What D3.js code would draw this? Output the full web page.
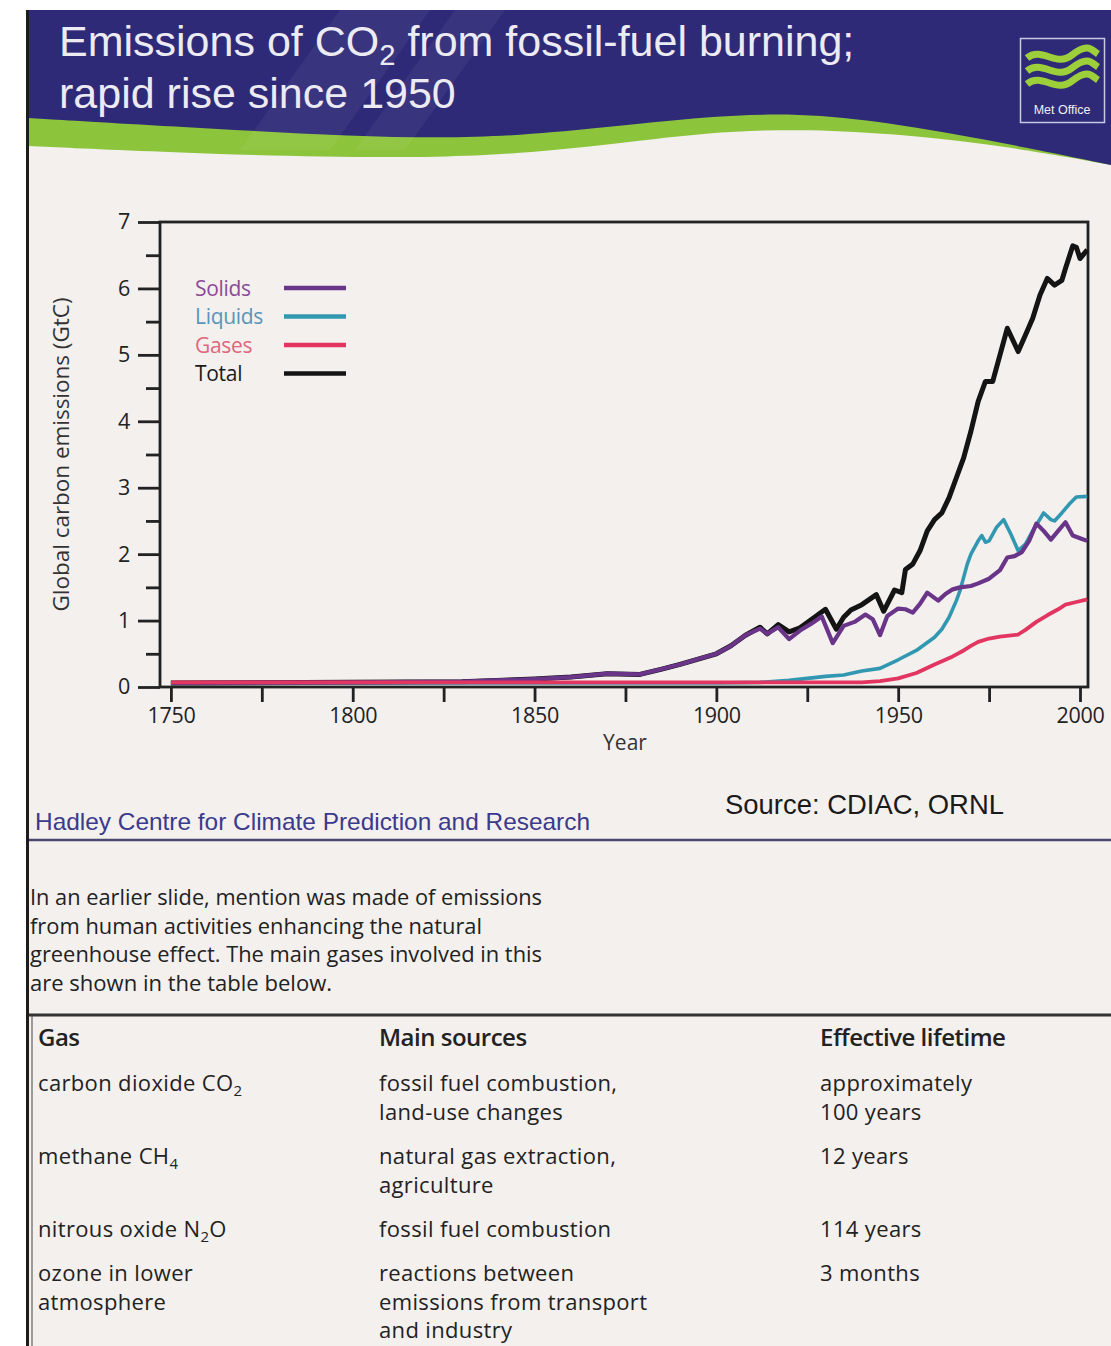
<!DOCTYPE html>
<html>
<head>
<meta charset="utf-8">
<script src="https://cdn.jsdelivr.net/npm/d3@7"></script>
<style>
  body { margin: 0; background: #fff; }
  svg { display: block; }
</style>
</head>
<body>
<div id="chart"></div>
<script>
// values, GtC per year
var totalYears  = [1750, 1800, 1830, 1850, 1860, 1870, 1879, 1885, 1890, 1895, 1900, 1904, 1908, 1912, 1914, 1917, 1920, 1923, 1927, 1930,
                   1933, 1935, 1937, 1940, 1944, 1946, 1949, 1951, 1952, 1954, 1956, 1958, 1960, 1962, 1964, 1966, 1968, 1970, 1972, 1974,
                   1976, 1978, 1980, 1983, 1985, 1987, 1989, 1991, 1993, 1995, 1996, 1998, 1999, 2000, 2002];
var totalValues = [0.06, 0.07, 0.08, 0.12, 0.15, 0.2, 0.19, 0.27, 0.34, 0.42, 0.5, 0.62, 0.78, 0.9, 0.8, 0.94, 0.83, 0.89, 1.05, 1.17,
                   0.87, 1.05, 1.16, 1.24, 1.39, 1.14, 1.46, 1.42, 1.77, 1.85, 2.05, 2.35, 2.52, 2.62, 2.85, 3.15, 3.45, 3.85, 4.3, 4.6,
                   4.6, 5.0, 5.4, 5.05, 5.3, 5.55, 5.9, 6.15, 6.05, 6.12, 6.3, 6.64, 6.62, 6.45, 6.58];

var solidsYears  = [1750, 1800, 1830, 1850, 1860, 1870, 1879, 1885, 1890, 1895, 1900, 1904, 1908, 1912, 1914, 1917, 1920, 1923, 1926, 1929,
                    1932, 1935, 1938, 1941, 1943, 1945, 1947, 1950, 1952, 1954, 1956, 1958, 1961, 1963, 1965, 1967, 1970, 1972, 1975, 1978,
                    1980, 1982, 1984, 1986, 1988, 1990, 1992, 1994, 1996, 1998, 2000, 2002];
var solidsValues = [0.06, 0.07, 0.08, 0.12, 0.15, 0.2, 0.19, 0.27, 0.34, 0.42, 0.5, 0.62, 0.78, 0.88, 0.8, 0.9, 0.72, 0.85, 0.95, 1.06,
                    0.66, 0.92, 0.98, 1.09, 1.02, 0.78, 1.07, 1.18, 1.17, 1.12, 1.25, 1.42, 1.3, 1.4, 1.47, 1.5, 1.52, 1.56, 1.63, 1.76,
                    1.95, 1.97, 2.03, 2.2, 2.46, 2.35, 2.22, 2.35, 2.48, 2.28, 2.24, 2.2];

var liquidsYears  = [1750, 1900, 1912, 1920, 1925, 1930, 1935, 1940, 1945, 1950, 1955, 1960, 1962, 1964, 1966, 1967, 1968, 1969, 1970, 1972,
                     1973, 1974, 1975, 1977, 1979, 1981, 1983, 1985, 1987, 1990, 1992, 1993, 1995, 1997, 1999, 2002];
var liquidsValues = [0.06, 0.06, 0.07, 0.1, 0.13, 0.16, 0.18, 0.24, 0.28, 0.41, 0.55, 0.75, 0.87, 1.05, 1.3, 1.45, 1.65, 1.85, 2.0, 2.2,
                     2.28, 2.18, 2.2, 2.4, 2.52, 2.3, 2.05, 2.15, 2.35, 2.62, 2.52, 2.5, 2.62, 2.75, 2.86, 2.87];

var gasesYears  = [1750, 1940, 1945, 1950, 1955, 1960, 1965, 1968, 1970, 1972, 1975, 1978, 1983, 1985, 1988, 1991, 1994, 1996, 1999, 2002];
var gasesValues = [0.07, 0.07, 0.09, 0.13, 0.21, 0.34, 0.46, 0.55, 0.62, 0.68, 0.73, 0.76, 0.79, 0.86, 0.98, 1.08, 1.17, 1.24, 1.28, 1.32];

var xTickYears = [1750, 1775, 1800, 1825, 1850, 1875, 1900, 1925, 1950, 1975, 2000];
var yTickValues = [0, 1, 2, 3, 4, 5, 6, 7];
var yMinorValues = [0.5, 1.5, 2.5, 3.5, 4.5, 5.5, 6.5];

var legendLabels = ["Solids", "Liquids", "Gases", "Total"];

var titleLines = ["Emissions of CO_2 from fossil-fuel burning;", "rapid rise since 1950"];
var introLines = ["In an earlier slide, mention was made of emissions",
                  "from human activities enhancing the natural",
                  "greenhouse effect. The main gases involved in this",
                  "are shown in the table below."];
var tableHeader = ["Gas", "Main sources", "Effective lifetime"];
var tableRows = [
    [["carbon dioxide CO_2"], ["fossil fuel combustion,", "land-use changes"], ["approximately", "100 years"]],
    [["methane CH_4"], ["natural gas extraction,", "agriculture"], ["12 years"]],
    [["nitrous oxide N_2O"], ["fossil fuel combustion"], ["114 years"]],
    [["ozone in lower", "atmosphere"], ["reactions between", "emissions from transport", "and industry"], ["3 months"]]
];

var W = 1111, H = 1346;
var chartFont = "'Open Sans', 'Noto Sans', sans-serif";
var arialFont = "'Liberation Sans', Arial, sans-serif";

var svg = d3.select("#chart").append("svg")
    .attr("width", W)
    .attr("height", H);

// page
svg.append("rect").attr("width", W).attr("height", H).attr("fill", "#ffffff");
svg.append("rect").attr("x", 28).attr("y", 10).attr("width", W - 28).attr("height", H - 10).attr("fill", "#f3f0ee");

// text with "_n" subscripts
function richText(sel, str, size) {
    var parts = str.split(/(_\d)/);
    var shifted = false;
    parts.forEach(function (p) {
        if (p === "") return;
        if (p.charAt(0) === "_") {
            sel.append("tspan").attr("dy", size * 0.22).attr("font-size", size * 0.68).text(p.slice(1));
            shifted = true;
        } else {
            var t = sel.append("tspan").text(p);
            if (shifted) { t.attr("dy", -size * 0.22); shifted = false; }
        }
    });
}

/******** header band ********/
var waveLine = d3.line().curve(d3.curveBasis);
var greenEdge = [[28, 146], [200, 154], [454, 160], [600, 146], [709, 132], [800, 129], [886, 133], [1000, 145], [1111, 165]];
var navyEdge  = [[28, 118], [200, 128], [454, 142], [600, 128], [709, 116], [800, 113], [886, 122], [1000, 142], [1111, 165]];

svg.append("path")
    .attr("d", "M28,10L1111,10L" + waveLine(greenEdge.slice().reverse()).slice(1) + "Z")
    .attr("fill", "#8cc43c");
svg.append("path")
    .attr("d", "M28,10L1111,10L" + waveLine(navyEdge.slice().reverse()).slice(1) + "Z")
    .attr("fill", "#2e2a78");
// faint diagonal sheen
svg.append("path").attr("d", "M340,10L430,10L330,150L240,150Z").attr("fill", "#ffffff").attr("opacity", 0.05);
svg.append("path").attr("d", "M455,10L505,10L405,150L355,150Z").attr("fill", "#ffffff").attr("opacity", 0.05);

titleLines.forEach(function (line, i) {
    var t = svg.append("text")
        .attr("x", 59)
        .attr("y", 56 + i * 52)
        .attr("font-family", arialFont)
        .attr("font-size", 43)
        .attr("fill", "#ecebf3");
    richText(t, line, 43);
});

// Met Office logo
var logo = svg.append("g").attr("transform", "translate(1020,38)");
logo.append("rect").attr("x", 0.5).attr("y", 0.5).attr("width", 84).attr("height", 84)
    .attr("fill", "none").attr("stroke", "#c9c8e2").attr("stroke-width", 1.5);
[0, 13, 26].forEach(function (dy) {
    logo.append("path")
        .attr("d", "M7," + (20 + dy) + " C22," + (8 + dy) + " 36," + (30 + dy) + " 52," + (17 + dy) + " S72," + (12 + dy) + " 78," + (16 + dy))
        .attr("fill", "none").attr("stroke", "#9ccf3a").attr("stroke-width", 7);
});
logo.append("text").attr("x", 42).attr("y", 76).attr("text-anchor", "middle")
    .attr("font-family", arialFont).attr("font-size", 12.5).attr("fill", "#f0f0f0")
    .text("Met Office");

/******** chart ********/
var x = d3.scaleLinear().domain([1747, 2002.2]).range([160, 1088]);
var y = d3.scaleLinear().domain([0, 7]).range([687, 222]);

var g = svg.append("g");

var xAxisCall = d3.axisBottom(x)
    .tickValues(xTickYears)
    .tickSize(15)
    .tickPadding(6)
    .tickFormat(function (d) { return d % 50 === 0 ? d : ""; });
var yAxisCall = d3.axisLeft(y)
    .tickValues(yTickValues)
    .tickSize(22)
    .tickPadding(8)
    .tickFormat(d3.format("d"));
var yMinorCall = d3.axisLeft(y)
    .tickValues(yMinorValues)
    .tickSize(14)
    .tickFormat("");

var xAxis = g.append("g").attr("transform", "translate(0," + y(0) + ")").call(xAxisCall);
var yAxis = g.append("g").attr("transform", "translate(" + x(1747) + ",0)").call(yAxisCall);
var yMinor = g.append("g").attr("transform", "translate(" + x(1747) + ",0)").call(yMinorCall);

[xAxis, yAxis, yMinor].forEach(function (a) {
    a.select(".domain").remove();
    a.selectAll(".tick line").attr("stroke", "#222").attr("stroke-width", 2.8);
    a.selectAll(".tick text")
        .attr("font-family", chartFont)
        .attr("font-size", 21.5)
        .attr("letter-spacing", -0.3)
        .attr("fill", "#222");
});

// frame
g.append("rect")
    .attr("x", x(1747))
    .attr("y", y(7))
    .attr("width", x(2002.2) - x(1747))
    .attr("height", y(0) - y(7))
    .attr("fill", "none")
    .attr("stroke", "#222")
    .attr("stroke-width", 2.8);

var series = [
    { name: "Total",   years: totalYears,   values: totalValues,   color: "#141414", width: 5 },
    { name: "Liquids", years: liquidsYears, values: liquidsValues, color: "#3298b2", width: 3.6 },
    { name: "Solids",  years: solidsYears,  values: solidsValues,  color: "#6a3489", width: 4.2 },
    { name: "Gases",   years: gasesYears,   values: gasesValues,   color: "#e23560", width: 3.8 }
];

var lineGenerator = d3.line()
    .x(function (d) { return x(d[0]); })
    .y(function (d) { return y(d[1]); })
    .curve(d3.curveLinear);

series.forEach(function (s) {
    var pts = s.years.map(function (yr, i) { return [yr, s.values[i]]; });
    g.append("path")
        .attr("class", "line")
        .attr("fill", "none")
        .attr("stroke", s.color)
        .attr("stroke-width", s.width)
        .attr("stroke-linejoin", "round")
        .attr("d", lineGenerator(pts));
});

// legend
var legendText = { Solids: "#8c4a98", Liquids: "#5a95b8", Gases: "#e0667c", Total: "#1a1a1a" };
var legendLine = { Solids: "#6a3489", Liquids: "#3298b2", Gases: "#e23560", Total: "#141414" };
legendLabels.forEach(function (lab, i) {
    var ly = 288 + i * 28.5;
    g.append("text")
        .attr("x", 195)
        .attr("y", ly + 7.5)
        .attr("font-family", chartFont)
        .attr("font-size", 21)
        .attr("letter-spacing", -0.3)
        .attr("fill", legendText[lab])
        .text(lab);
    g.append("line")
        .attr("x1", 284).attr("x2", 346)
        .attr("y1", ly).attr("y2", ly)
        .attr("stroke", legendLine[lab])
        .attr("stroke-width", 4.5);
});

// axis titles
g.append("text")
    .attr("transform", "translate(69," + ((y(0) + y(7)) / 2) + ") rotate(-90)")
    .attr("text-anchor", "middle")
    .attr("font-family", chartFont)
    .attr("font-size", 21)
    .attr("textLength", 314).attr("lengthAdjust", "spacingAndGlyphs")
    .attr("fill", "#333")
    .text("Global carbon emissions (GtC)");

g.append("text")
    .attr("x", 625)
    .attr("y", 750)
    .attr("text-anchor", "middle")
    .attr("font-family", chartFont)
    .attr("font-size", 21)
    .attr("fill", "#333")
    .text("Year");

// footer of the slide
svg.append("text")
    .attr("x", 725).attr("y", 814)
    .attr("font-family", arialFont).attr("font-size", 28).attr("fill", "#1a1a1a")
    .attr("textLength", 279).attr("lengthAdjust", "spacingAndGlyphs")
    .text("Source: CDIAC, ORNL");
svg.append("text")
    .attr("x", 35).attr("y", 830)
    .attr("font-family", arialFont).attr("font-size", 24).attr("fill", "#3b3a8c")
    .attr("textLength", 555).attr("lengthAdjust", "spacingAndGlyphs")
    .text("Hadley Centre for Climate Prediction and Research");
svg.append("line")
    .attr("x1", 28).attr("x2", W).attr("y1", 840).attr("y2", 840)
    .attr("stroke", "#4a4870").attr("stroke-width", 2.5);

/******** page text below ********/
var introWidths = [512, 452, 512, 302];
introLines.forEach(function (line, i) {
    svg.append("text")
        .attr("x", 30).attr("y", 905 + i * 28.5)
        .attr("font-family", chartFont).attr("font-size", 22.5).attr("fill", "#222")
        .attr("textLength", introWidths[i]).attr("lengthAdjust", "spacingAndGlyphs")
        .text(line);
});

svg.append("line")
    .attr("x1", 28).attr("x2", W).attr("y1", 1015).attr("y2", 1015)
    .attr("stroke", "#333").attr("stroke-width", 3);

var colX = [38, 379, 820];
var rowY = [1091, 1164, 1237, 1281];
var lineStep = 28.6;
var cellSize = 22;

tableHeader.forEach(function (h, c) {
    svg.append("text")
        .attr("x", colX[c]).attr("y", 1046)
        .attr("font-family", chartFont).attr("font-size", 24).attr("font-weight", 600)
        .attr("letter-spacing", -0.5).attr("fill", "#222")
        .text(h);
});

tableRows.forEach(function (row, r) {
    row.forEach(function (cell, c) {
        cell.forEach(function (line, k) {
            var t = svg.append("text")
                .attr("x", colX[c]).attr("y", rowY[r] + k * lineStep)
                .attr("font-family", chartFont).attr("font-size", cellSize)
                .attr("letter-spacing", 0.35).attr("fill", "#222");
            richText(t, line, cellSize);
        });
    });
});

// left page edge
svg.append("line")
    .attr("x1", 27.5).attr("x2", 27.5).attr("y1", 10).attr("y2", H)
    .attr("stroke", "#1c1c1c").attr("stroke-width", 3);
svg.append("line")
    .attr("x1", 32).attr("x2", 32).attr("y1", 1015).attr("y2", H)
    .attr("stroke", "#444").attr("stroke-width", 1);
</script>
</body>
</html>
